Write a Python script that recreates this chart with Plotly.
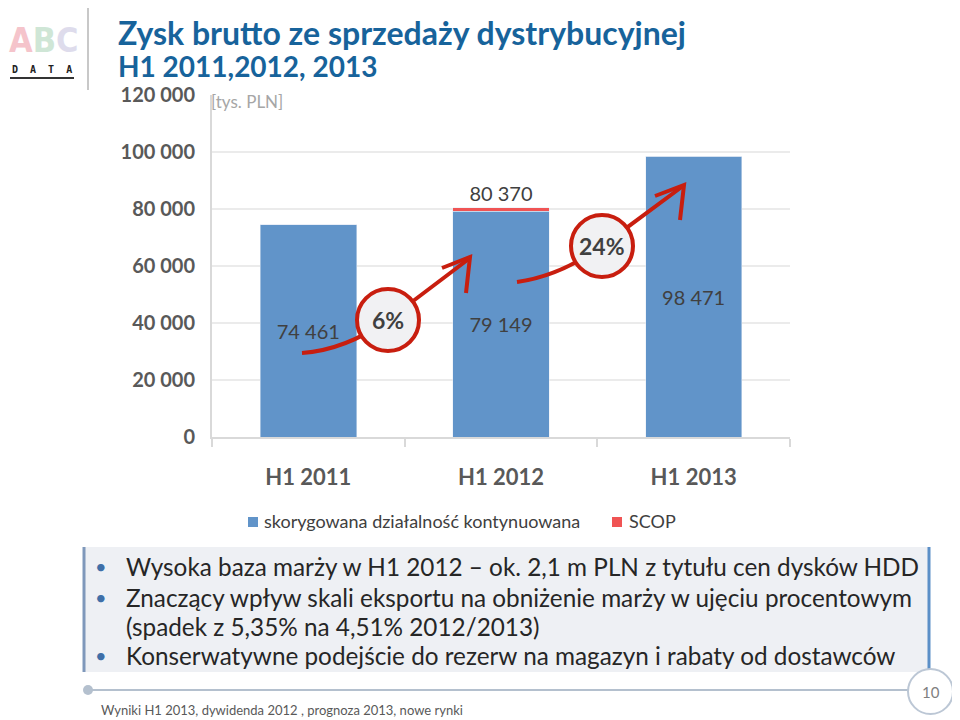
import plotly.graph_objects as go

# ---------------- data ----------------
categories = ["H1 2011", "H1 2012", "H1 2013"]
adjusted = [74461, 79149, 98471]          # skorygowana działalność kontynuowana
scop = [0, 1221, 0]                        # SCOP
series_names = ["skorygowana działalność kontynuowana", "SCOP"]
growth_labels = ["6%", "24%"]
y_ticks = [0, 20000, 40000, 60000, 80000, 100000, 120000]
bullets = [
    "Wysoka baza marży w H1 2012 – ok. 2,1 m PLN z tytułu cen dysków HDD",
    "Znaczący wpływ skali eksportu na obniżenie marży w ujęciu procentowym",
    "(spadek z 5,35% na 4,51% 2012/2013)",
    "Konserwatywne podejście do rezerw na magazyn i rabaty od dostawców",
]

def fmt(v):
    return f"{v:,}".replace(",", " ")

# ---------------- layout helpers (page pixel -> paper) ----------------
# the page body has an 8px margin, so the figure is placed at (8, 8)
OFF = 8
W, H = 952, 712
PL, PT, PR, PB = 212, 95, 790, 437      # plot area in page pixels
L, T = PL - OFF, PT - OFF
R, B = W - (PR - OFF), H - (PB - OFF)
PW, PH = PR - PL, PB - PT

def X(px):
    return (px - PL) / PW

def Y(py):
    return (PB - py) / PH

BLUE = "#6194c9"
RED = "#f05454"
ARROW = "#c81e0f"
GRAY = "#595959"
FONT = "Lato"

fig = go.Figure()
fig.add_trace(go.Bar(
    x=categories, y=adjusted, name=series_names[0],
    marker_color=BLUE, width=0.5,
    text=[fmt(v) for v in adjusted], textposition="inside", insidetextanchor="middle",
    textfont=dict(size=20, color="#404040", family=FONT),
    hoverinfo="skip",
))
fig.add_trace(go.Bar(
    x=categories, y=scop, name=series_names[1],
    marker_color=RED, width=0.5,
    text=[fmt(a + s) if s else "" for a, s in zip(adjusted, scop)],
    textposition="outside",
    textfont=dict(size=20, color="#404040", family=FONT),
    cliponaxis=False, hoverinfo="skip",
))

shapes = []
annotations = []

def line(x0, y0, x1, y1, color, width):
    shapes.append(dict(type="line", xref="paper", yref="paper", x0=X(x0), x1=X(x1), y0=Y(y0), y1=Y(y1),
                       line=dict(color=color, width=width)))

def text(x, y, s, size, color, anchor="left", family=FONT):
    annotations.append(dict(xref="paper", yref="paper", x=X(x), y=Y(y), xanchor=anchor, yanchor="middle",
                            showarrow=False, text=s, font=dict(size=size, family=family, color=color)))

# logo
line(88, 5, 88, 90, "#c8c8c8", 2)
line(10, 78, 74, 78, "#333333", 2)
text(43, 40, "<b><span style='color:#f5c4cb'>A</span><span style='color:#cfe6d6'>B</span>"
             "<span style='color:#dedcec'>C</span></b>", 34, "#f5c4cb", "center", "DejaVu Sans Condensed")
text(42, 70, "<b>D  A  T  A</b>", 10, "#222222", "center", "DejaVu Sans Mono")

# title
text(116, 32, "<b>Zysk brutto ze sprzedaży dystrybucyjnej</b>", 32, "#17639b")
text(116, 66, "<b>H1 2011,2012, 2013</b>", 28, "#17639b")
# unit
text(209, 101, "[tys. PLN]", 17, "#a6a6a6")

# growth arrows
arrow_paths = [
    [(302, 353), (345, 350), (388, 320), (470, 258)],
    [(517, 282), (560, 276), (602, 246), (683, 186)],
]
heads = [
    [(442, 268), (470, 257), (466, 293)],
    [(655, 196), (684, 185), (680, 220)],
]
for p in arrow_paths:
    (x0, y0), (cx, cy), (x1, y1), (x2, y2) = p
    path = f"M {X(x0)} {Y(y0)} Q {X(cx)} {Y(cy)} {X(x1)} {Y(y1)} L {X(x2)} {Y(y2)}"
    shapes.append(dict(type="path", xref="paper", yref="paper", path=path,
                       line=dict(color=ARROW, width=4)))
for h in heads:
    (a, b), (c, d), (e, f) = h
    path = f"M {X(a)} {Y(b)} L {X(c)} {Y(d)} L {X(e)} {Y(f)}"
    shapes.append(dict(type="path", xref="paper", yref="paper", path=path,
                       line=dict(color=ARROW, width=4)))
circle_centers = [(388, 320), (602, 246)]
for (cx, cy), lab in zip(circle_centers, growth_labels):
    r = 31
    shapes.append(dict(type="circle", xref="paper", yref="paper",
                       x0=X(cx - r), x1=X(cx + r), y0=Y(cy + r), y1=Y(cy - r),
                       fillcolor="#f1f1f3", line=dict(color=ARROW, width=4)))
    text(cx, cy, f"<b>{lab}</b>", 23, "#404040", "center")

# legend (drawn manually to match spacing)
for (sx, tx), name, col in zip([(248, 262), (612, 627)], series_names, [BLUE, RED]):
    shapes.append(dict(type="rect", xref="paper", yref="paper", x0=X(sx), x1=X(sx + 10),
                       y0=Y(527), y1=Y(517), fillcolor=col, line=dict(width=0)))
    text(tx, 521, name, 18, "#404040")

# bullet box
shapes.append(dict(type="rect", xref="paper", yref="paper", x0=X(83), x1=X(930), y0=Y(672), y1=Y(547),
                   fillcolor="#eef0f4", line=dict(width=0), layer="below"))
line(84, 672, 84, 547, "#7f98bb", 3)
line(929, 677, 929, 547, "#5b8fc7", 3)
line_y = [566, 597, 626, 655]
has_bullet = [True, True, False, True]
for txt, yy, hb in zip(bullets, line_y, has_bullet):
    if hb:
        text(101, yy, "•", 20, "#3f6fa8", "center")
    text(124, yy, txt, 24.3, "#262626")

# footer
line(88, 690, 908, 690, "#b4c0ce", 2)
shapes.append(dict(type="circle", xref="paper", yref="paper", x0=X(83), x1=X(93), y0=Y(695), y1=Y(685),
                   fillcolor="#b4c0ce", line=dict(width=0)))
shapes.append(dict(type="circle", xref="paper", yref="paper", x0=X(908), x1=X(953), y0=Y(714), y1=Y(669),
                   fillcolor="white", line=dict(color="#bcc7d5", width=2)))
text(931, 692, "10", 15, "#7f7f7f", "center")
text(99, 710, "Wyniki H1 2013, dywidenda 2012 , prognoza 2013, nowe rynki", 13, "#595959")

fig.update_layout(
    width=W, height=H,
    margin=dict(l=L, r=R, t=T, b=B, autoexpand=False),
    paper_bgcolor="white", plot_bgcolor="white",
    barmode="stack", bargap=0.5,
    separators=", ",
    font=dict(family=FONT, color=GRAY),
    showlegend=False,
    xaxis=dict(showgrid=False, showline=True, linecolor="#d9d9d9", linewidth=2,
               ticks="outside", tickson="boundaries", ticklen=8, tickcolor="#d9d9d9", tickwidth=2,
               tickfont=dict(size=22, family=FONT, color=GRAY),
               tickvals=categories, ticktext=[f"<b>{c}</b>" for c in categories],
               ticklabelstandoff=20),
    yaxis=dict(range=[0, 120000], tickvals=y_ticks,
               ticktext=[f"<b>{fmt(v)}</b>" for v in y_ticks],
               showgrid=True, gridcolor="#ebebeb", gridwidth=1.5,
               showline=True, linecolor="#d9d9d9", linewidth=2, zeroline=False,
               tickfont=dict(size=20, family=FONT, color=GRAY), ticklabelstandoff=11),
    shapes=shapes, annotations=annotations,
)

fig.write_html("out.html")
